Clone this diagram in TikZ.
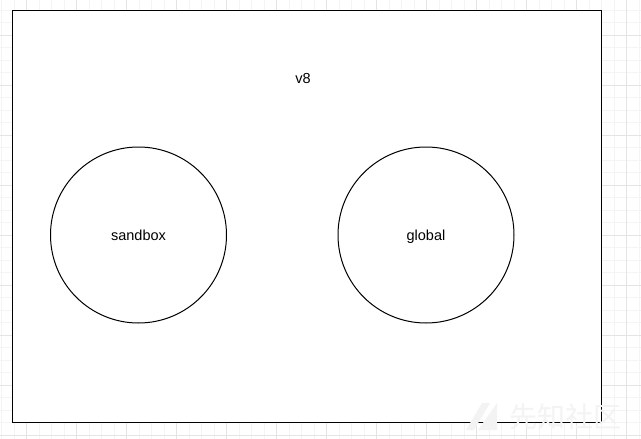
\documentclass[tikz,border=0pt]{standalone}
\usepackage{fontspec}
\setmainfont{Liberation Sans}
\newfontfamily\cjk{Noto Sans CJK SC}
\definecolor{gridminor}{HTML}{F4F4F4}
\definecolor{gridmajor}{HTML}{E4E4E4}
\definecolor{wmark}{HTML}{F3F3F3}
\tikzset{
	ctx/.style={draw, circle, line width=1pt, minimum size=176pt, inner sep=0pt, text height=13pt, text depth=3pt, font=\fontsize{14.5}{17}\selectfont},
	lbl/.style={inner sep=0pt, text height=13pt, text depth=3pt, font=\fontsize{14.5}{17}\selectfont}
}
\begin{document}
\begin{tikzpicture}[x=1pt, y=-1pt]
		\useasboundingbox (0,0) rectangle (641,439);
		% grid
		\foreach \x in {0,...,51} \draw [gridminor, line width=0.8pt] (1.7+12.5*\x,0)--(1.7+12.5*\x,439);
		\foreach \y in {0,...,35} \draw [gridminor, line width=0.8pt] (0,10+12.5*\y)--(641,10+12.5*\y);
		\foreach \x in {0,...,12} \draw [gridmajor, line width=0.8pt] (26.7+50*\x,0)--(26.7+50*\x,439);
		\foreach \y in {0,...,8} \draw [gridmajor, line width=0.8pt] (0,35+50*\y)--(641,35+50*\y);
		\filldraw [fill=white, line width=1pt] (12,10) rectangle (601,422);
		\node [lbl] (v8) at (303,78) {v8};
		\node [ctx] (sandbox) at (138.5,235) {sandbox};
		\node [ctx] (global) at (426,235) {global};
		% watermark
		\fill [wmark] (466,430)--(482,403)--(490,403)--(474,430)--cycle;
		\fill [wmark] (478,430)--(497,403)--(497,430)--cycle;
		\node [wmark, inner sep=0pt, font=\cjk\fontsize{28}{30}\selectfont] (mark) at (565,417) {先知社区};
	\end{tikzpicture}
\end{document}
